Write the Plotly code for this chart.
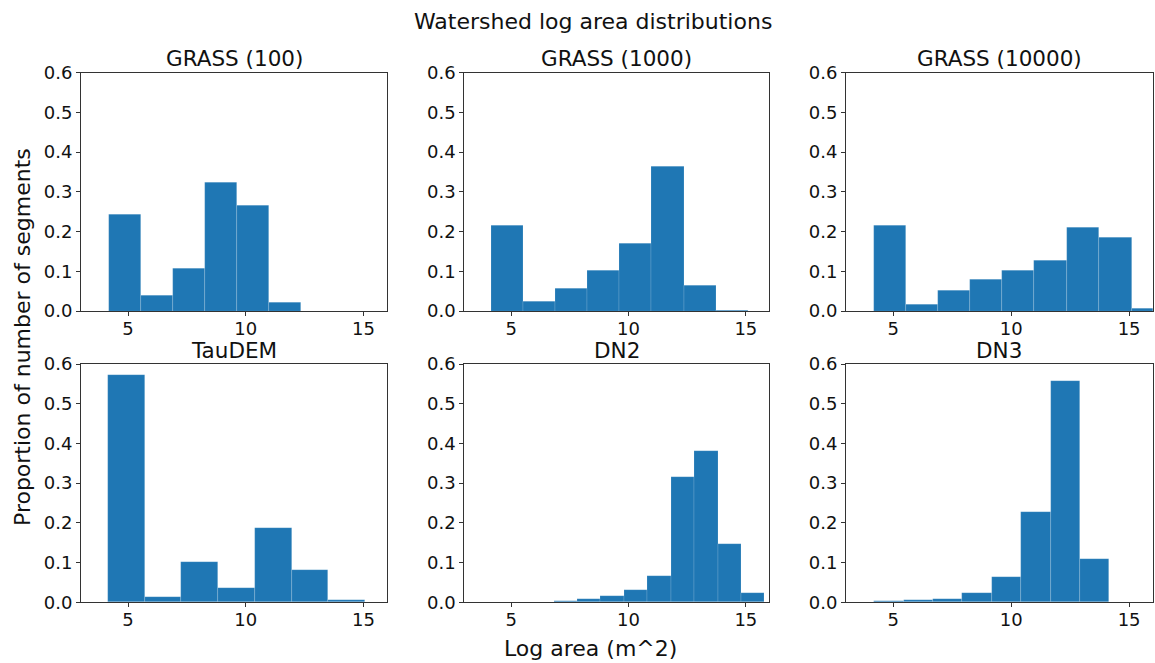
import plotly.graph_objects as go

# ---- data ----
panel_titles = ["GRASS (100)", "GRASS (1000)", "GRASS (10000)", "TauDEM", "DN2", "DN3"]

grass_edges = [4.17, 5.53, 6.89, 8.26, 9.62, 10.98, 12.36, 13.74, 15.11, 16.48]
grass100_vals = [0.242, 0.040, 0.106, 0.323, 0.265, 0.022, 0.0, 0.0, 0.0]
grass1000_vals = [0.216, 0.023, 0.056, 0.103, 0.170, 0.364, 0.063, 0.002, 0.0]
grass10000_vals = [0.214, 0.016, 0.052, 0.080, 0.102, 0.128, 0.211, 0.184, 0.007]

taudem_edges = [4.165, 5.71, 7.25, 8.81, 10.39, 11.95, 13.51, 15.05, 16.6]
taudem_vals = [0.572, 0.0126, 0.101, 0.036, 0.187, 0.081, 0.005, 0.0015]

dn2_edges = [6.82, 7.82, 8.81, 9.80, 10.80, 11.81, 12.82, 13.81, 14.80, 15.80, 16.80]
dn2_vals = [0.004, 0.009, 0.015, 0.030, 0.067, 0.316, 0.381, 0.146, 0.024, 0.002]

dn3_edges = [4.19, 5.44, 6.68, 7.93, 9.18, 10.42, 11.67, 12.92, 14.16, 15.41]
dn3_vals = [0.0034, 0.005, 0.009, 0.0235, 0.063, 0.228, 0.558, 0.108, 0.0017]

x_ticks = [5, 10, 15]
y_ticks = [0.0, 0.1, 0.2, 0.3, 0.4, 0.5, 0.6]
x_range = [3, 16]
y_range = [0, 0.6]

suptitle = "Watershed log area distributions"
x_title = "Log area (m^2)"
y_title = "Proportion of number of segments"

panels = [
    (grass_edges, grass100_vals),
    (grass_edges, grass1000_vals),
    (grass_edges, grass10000_vals),
    (taudem_edges, taudem_vals),
    (dn2_edges, dn2_vals),
    (dn3_edges, dn3_vals),
]

# ---- layout geometry ----
W, H = 1155, 663
col_px = [(81, 387), (464.3, 769.3), (846, 1152.7)]
row_px = [(72.5, 311), (364, 602.3)]  # top, bottom in pixels from top

FONT = "DejaVu Sans, Liberation Sans, sans-serif"
BAR = "#1f77b4"
SPINE = "#333333"

fig = go.Figure()
layout = dict(
    width=W, height=H, autosize=False,
    margin=dict(l=0, r=0, t=0, b=0, pad=0, autoexpand=False),
    paper_bgcolor="white", plot_bgcolor="white",
    showlegend=False, bargap=0,
    font=dict(family=FONT, color="#111111"),
    annotations=[],
)

for i, (edges, vals) in enumerate(panels):
    r, c = divmod(i, 3)
    n = i + 1
    xa = "x" if n == 1 else f"x{n}"
    ya = "y" if n == 1 else f"y{n}"
    centers = [(edges[k] + edges[k + 1]) / 2 for k in range(len(vals))]
    widths = [edges[k + 1] - edges[k] for k in range(len(vals))]
    fig.add_trace(go.Bar(
        x=centers, y=vals, width=widths,
        marker=dict(color=BAR, line=dict(color="rgba(255,255,255,0.25)", width=0.6)),
        xaxis=xa, yaxis=ya, hoverinfo="skip",
    ))
    x0, x1 = col_px[c]
    t, b = row_px[r]
    axkw = dict(showline=True, mirror=True, linecolor=SPINE, linewidth=1,
                ticks="outside", ticklen=4, tickwidth=1, tickcolor=SPINE,
                showgrid=False, zeroline=False, automargin=False,
                tickfont=dict(family=FONT, size=18, color="#111111"))
    layout["xaxis" if n == 1 else f"xaxis{n}"] = dict(
        domain=[x0 / W, x1 / W], range=x_range, tickvals=x_ticks,
        anchor=ya, ticklabelstandoff=-3, **axkw)
    layout["yaxis" if n == 1 else f"yaxis{n}"] = dict(
        domain=[1 - b / H, 1 - t / H], range=y_range, tickvals=y_ticks,
        tickformat=".1f", anchor=xa, **axkw)
    layout["annotations"].append(dict(
        text=panel_titles[i], xref="paper", yref="paper",
        x=(x0 + x1) / 2 / W, y=1 - (t - 14) / H,
        xanchor="center", yanchor="middle", showarrow=False,
        font=dict(family=FONT, size=21.5, color="#111111")))

layout["annotations"].append(dict(
    text=suptitle, xref="paper", yref="paper", x=592.5 / W, y=1 - 21 / H,
    xanchor="center", yanchor="middle", showarrow=False,
    font=dict(family=FONT, size=22, color="#111111")))
layout["annotations"].append(dict(
    text=x_title, xref="paper", yref="paper", x=590 / W, y=1 - 648 / H,
    xanchor="center", yanchor="middle", showarrow=False,
    font=dict(family=FONT, size=22, color="#111111")))
layout["annotations"].append(dict(
    text=y_title, xref="paper", yref="paper", x=22 / W, y=1 - 337 / H,
    xanchor="center", yanchor="middle", showarrow=False, textangle=-90,
    font=dict(family=FONT, size=22, color="#111111")))

fig.update_layout(**layout)
fig.write_html("out.html")
